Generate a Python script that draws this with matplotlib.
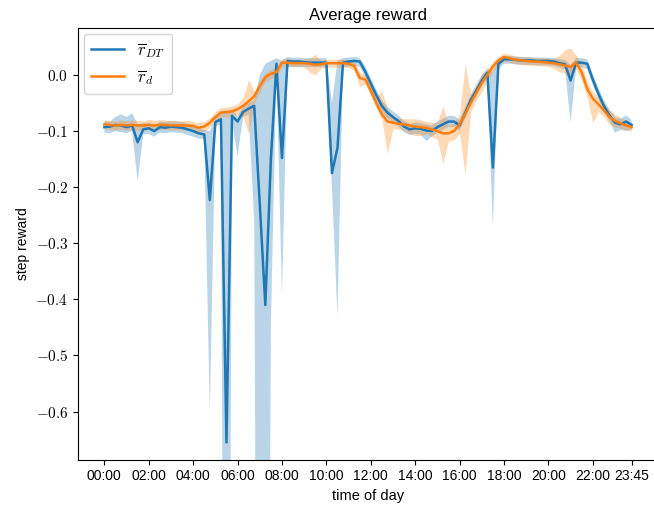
import matplotlib
matplotlib.use("Agg")
import matplotlib.pyplot as plt
from matplotlib.ticker import FuncFormatter
import numpy as np

plt.rcParams['font.family'] = ['Liberation Sans', 'DejaVu Sans']
plt.rcParams['mathtext.fontset'] = 'cm'

# time of day: 96 quarter-hour steps
n_steps = 96
tick_steps = [0, 8, 16, 24, 32, 40, 48, 56, 64, 72, 80, 88, 95]
tick_labels = ["00:00", "02:00", "04:00", "06:00", "08:00", "10:00", "12:00",
               "14:00", "16:00", "18:00", "20:00", "22:00", "23:45"]

# r_DT mean and confidence band
dt_mean = [-0.093, -0.092, -0.089, -0.090, -0.093, -0.090, -0.120, -0.097, -0.095, -0.100,
           -0.093, -0.094, -0.092, -0.093, -0.094, -0.097, -0.100, -0.104, -0.106, -0.223,
           -0.084, -0.079, -0.655, -0.073, -0.083, -0.066, -0.060, -0.055, -0.230, -0.410,
           -0.150, 0.020, -0.148, 0.025, 0.024, 0.024, 0.023, 0.022, 0.022, 0.022,
           0.022, -0.175, -0.130, 0.022, 0.024, 0.025, 0.024, 0.006, -0.015, -0.036,
           -0.055, -0.067, -0.075, -0.082, -0.092, -0.097, -0.095, -0.096, -0.099, -0.100,
           -0.093, -0.088, -0.083, -0.083, -0.090, -0.068, -0.045, -0.028, -0.010, 0.004,
           -0.165, 0.020, 0.028, 0.028, 0.027, 0.026, 0.026, 0.026, 0.025, 0.025,
           0.025, 0.024, 0.021, 0.019, -0.010, 0.022, 0.022, 0.020, -0.008, -0.033,
           -0.055, -0.072, -0.085, -0.088, -0.083, -0.089]
dt_lo = [-0.103, -0.104, -0.100, -0.102, -0.104, -0.100, -0.190, -0.106, -0.105, -0.110,
         -0.103, -0.104, -0.102, -0.103, -0.104, -0.107, -0.110, -0.113, -0.115, -0.605,
         -0.092, -0.088, -2.500, -0.083, -0.145, -0.075, -0.070, -0.260, -2.500, -2.500,
         -0.450, 0.010, -0.390, 0.015, 0.014, 0.014, 0.014, 0.014, 0.014, 0.014,
         0.014, -0.200, -0.430, 0.014, 0.015, 0.016, 0.015, -0.004, -0.025, -0.046,
         -0.065, -0.077, -0.085, -0.092, -0.102, -0.107, -0.105, -0.106, -0.118, -0.110,
         -0.103, -0.098, -0.093, -0.093, -0.100, -0.078, -0.055, -0.038, -0.020, -0.006,
         -0.270, 0.010, 0.020, 0.020, 0.019, 0.018, 0.018, 0.018, 0.017, 0.017,
         0.017, 0.016, 0.013, 0.010, -0.085, 0.014, 0.014, 0.010, -0.018, -0.043,
         -0.065, -0.082, -0.103, -0.098, -0.100, -0.097]
dt_hi = [-0.082, -0.083, -0.075, -0.070, -0.075, -0.068, -0.088, -0.086, -0.085, -0.090,
         -0.083, -0.084, -0.082, -0.083, -0.084, -0.087, -0.090, -0.095, -0.098, -0.100,
         -0.076, -0.070, -0.065, -0.063, -0.073, -0.055, -0.050, -0.045, 0.000, 0.020,
         0.025, 0.030, 0.025, 0.032, 0.031, 0.031, 0.030, 0.030, 0.030, 0.030,
         0.030, -0.050, 0.025, 0.030, 0.031, 0.032, 0.031, 0.016, -0.005, -0.026,
         -0.045, -0.057, -0.065, -0.072, -0.082, -0.087, -0.085, -0.086, -0.088, -0.090,
         -0.083, -0.078, -0.073, -0.073, -0.080, -0.058, -0.035, -0.018, 0.000, 0.012,
         0.005, 0.028, 0.034, 0.034, 0.033, 0.032, 0.032, 0.032, 0.031, 0.031,
         0.031, 0.030, 0.028, 0.027, 0.018, 0.030, 0.030, 0.028, 0.002, -0.023,
         -0.045, -0.062, -0.075, -0.078, -0.072, -0.080]

# r_d mean and confidence band
d_mean = [-0.088, -0.089, -0.090, -0.089, -0.090, -0.089, -0.090, -0.090, -0.089, -0.090,
          -0.089, -0.089, -0.090, -0.090, -0.090, -0.090, -0.091, -0.094, -0.092, -0.085,
          -0.075, -0.067, -0.066, -0.065, -0.061, -0.055, -0.047, -0.038, -0.020, -0.004,
          0.002, 0.005, 0.022, 0.022, 0.021, 0.021, 0.021, 0.020, 0.018, 0.019,
          0.021, 0.021, 0.021, 0.021, 0.020, 0.016, -0.005, -0.008, -0.028, -0.050,
          -0.070, -0.083, -0.085, -0.087, -0.088, -0.090, -0.092, -0.093, -0.094, -0.097,
          -0.100, -0.104, -0.104, -0.100, -0.088, -0.070, -0.050, -0.032, -0.014, 0.000,
          0.015, 0.026, 0.032, 0.030, 0.027, 0.026, 0.025, 0.024, 0.024, 0.023,
          0.022, 0.021, 0.019, 0.017, 0.014, 0.022, 0.005, -0.025, -0.042, -0.052,
          -0.063, -0.075, -0.082, -0.086, -0.090, -0.093]
d_lo = [-0.096, -0.097, -0.098, -0.097, -0.098, -0.097, -0.099, -0.098, -0.097, -0.099,
        -0.097, -0.097, -0.098, -0.098, -0.098, -0.098, -0.099, -0.102, -0.100, -0.093,
        -0.083, -0.075, -0.075, -0.074, -0.070, -0.075, -0.105, -0.050, -0.030, -0.012,
        -0.006, -0.003, 0.014, 0.015, 0.015, 0.015, 0.014, 0.005, 0.000, 0.012,
        0.014, 0.014, 0.014, 0.014, 0.013, 0.008, -0.020, -0.016, -0.038, -0.060,
        -0.080, -0.140, -0.095, -0.097, -0.098, -0.105, -0.108, -0.108, -0.105, -0.110,
        -0.115, -0.157, -0.118, -0.115, -0.105, -0.177, -0.065, -0.045, -0.030, -0.010,
        0.006, 0.018, 0.024, 0.023, 0.020, 0.019, 0.018, 0.017, 0.017, 0.016,
        0.015, 0.012, 0.005, 0.004, -0.005, 0.010, -0.010, -0.040, -0.085, -0.065,
        -0.075, -0.088, -0.093, -0.095, -0.098, -0.100]
d_hi = [-0.080, -0.081, -0.082, -0.080, -0.082, -0.080, -0.081, -0.082, -0.079, -0.081,
        -0.080, -0.080, -0.082, -0.081, -0.082, -0.081, -0.083, -0.085, -0.083, -0.076,
        -0.065, -0.058, -0.057, -0.055, -0.052, -0.040, -0.008, -0.030, -0.010, 0.004,
        0.010, 0.013, 0.030, 0.029, 0.028, 0.028, 0.028, 0.030, 0.037, 0.026,
        0.028, 0.028, 0.028, 0.028, 0.027, 0.024, 0.005, 0.000, -0.018, -0.040,
        -0.028, -0.060, -0.075, -0.077, -0.078, -0.078, -0.078, -0.080, -0.083, -0.085,
        -0.085, -0.055, -0.090, -0.085, -0.070, 0.019, -0.035, -0.018, 0.002, 0.010,
        0.024, 0.033, 0.039, 0.037, 0.034, 0.033, 0.032, 0.031, 0.031, 0.030,
        0.030, 0.030, 0.035, 0.045, 0.048, 0.035, 0.020, -0.012, -0.030, -0.040,
        -0.050, -0.062, -0.070, -0.076, -0.082, -0.086]

x = np.arange(n_steps)

fig = plt.figure(figsize=(6.54, 5.08), dpi=100)
ax = fig.add_axes([78 / 654, 48.5 / 508, 580 / 654, 431.2 / 508])

ax.plot(x, dt_mean, color='tab:blue', lw=1.8, label=r'$\overline{r}_{DT}$')
ax.fill_between(x, dt_lo, dt_hi, color='tab:blue', alpha=0.3, lw=0)
ax.plot(x, d_mean, color='tab:orange', lw=1.8, label=r'$\overline{r}_d$')
ax.fill_between(x, d_lo, d_hi, color='tab:orange', alpha=0.3, lw=0)

ax.set_ylim(-0.6854, 0.0832)
ax.set_xticks(tick_steps)
ax.set_xticklabels(tick_labels, fontsize=10)
ax.yaxis.set_major_formatter(FuncFormatter(lambda v, p: r'$%.1f$' % v))
ax.tick_params(axis='y', labelsize=11)
ax.set_xlabel('time of day', fontsize=10.5)
ax.set_ylabel('step reward', fontsize=10)
ax.set_title('Average reward', fontsize=12)
ax.legend(loc='upper left', fontsize=12, borderaxespad=0.35)

fig.savefig('out.png', dpi=100)
